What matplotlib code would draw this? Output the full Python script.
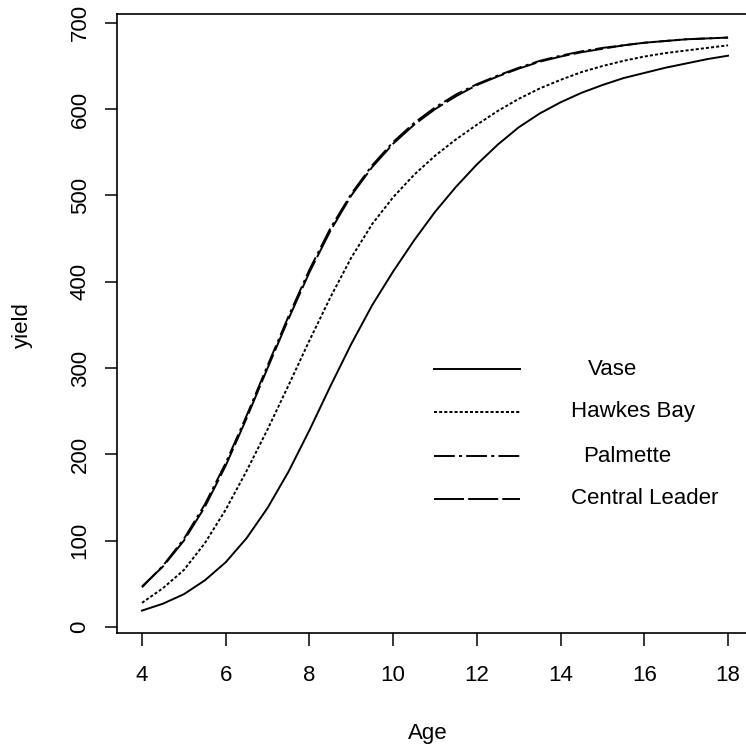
import matplotlib
matplotlib.use("Agg")
import matplotlib.pyplot as plt
from matplotlib.lines import Line2D

plt.rcParams['font.family'] = ['Liberation Sans', 'DejaVu Sans']
plt.rcParams['lines.scale_dashes'] = False

# Values (yield vs tree age)
age = [4, 4.5, 5, 5.5, 6, 6.5, 7, 7.5, 8, 8.5, 9, 9.5, 10, 10.5, 11, 11.5,
       12, 12.5, 13, 13.5, 14, 14.5, 15, 15.5, 16, 16.5, 17, 17.5, 18]

vase = [19, 27, 38, 54, 75, 103, 138, 180, 228, 279, 328, 373, 412, 448, 481, 510,
        536, 559, 579, 595, 608, 619, 628, 636, 642, 648, 653, 658, 662]
hawkes_bay = [28, 45, 66, 97, 136, 181, 229, 280, 332, 382, 428, 467, 498, 524, 546, 565,
              582, 598, 612, 624, 634, 643, 650, 656, 661, 665, 668, 671, 674]
palmette = [46, 71, 102, 142, 190, 245, 303, 360, 414, 462, 502, 535, 562, 584, 602, 617,
            629, 639, 648, 656, 662, 667, 671, 674, 677, 679, 681, 682, 683]
central_leader = [47, 70, 100, 139, 187, 242, 300, 357, 411, 459, 500, 533, 560, 582, 600, 615,
                  628, 638, 647, 655, 661, 666, 670, 674, 677, 679, 681, 682, 683]

x_ticks = [4, 6, 8, 10, 12, 14, 16, 18]
y_ticks = [0, 100, 200, 300, 400, 500, 600, 700]

series = [
    ("Vase", vase, "-"),
    ("Hawkes Bay", hawkes_bay, (0, (2.2, 1.5))),
    ("Palmette", palmette, (0, (15, 3, 2.2, 3))),
    ("Central Leader", central_leader, (0, (21.6, 3))),
]

fig = plt.figure(figsize=(7.46, 7.51), dpi=100)
ax = fig.add_axes([117 / 746, (751 - 633) / 751, 634.5 / 746, (633 - 14) / 751])

for name, vals, ls in series:
    ax.plot(age, vals, color="black", linestyle=ls, linewidth=1.4)

ax.set_xlim(3.403, 18.56)
ax.set_ylim(-6.95, 710.3)
ax.set_xticks(x_ticks)
ax.set_yticks(y_ticks)
ax.tick_params(axis="both", direction="out", length=9, width=1.1, labelsize=16)
ax.tick_params(axis="x", pad=14)
ax.tick_params(axis="y", pad=10)
for lab in ax.get_yticklabels():
    lab.set_rotation(90)
    lab.set_va("center")
for sp in ax.spines.values():
    sp.set_linewidth(1.2)

fig.text(428 / 746, 1 - 733 / 751, "Age", ha="center", va="center", fontsize=16)
fig.text(22 / 746, 1 - 325 / 751, "yield", ha="center", va="center", fontsize=16, rotation=90)

# hand-placed key, like the original
key_y = [369, 412, 456, 499]
text_x = [613, 633, 627, 645]
for (name, vals, ls), ky, tx in zip(series, key_y, text_x):
    yy = 1 - ky / 751
    fig.add_artist(Line2D([434 / 746, 520 / 746], [yy, yy], color="black",
                          linestyle=ls, linewidth=1.4))
    fig.text(tx / 746, yy, name, ha="center", va="center", fontsize=16)

fig.savefig("out.png", dpi=100)
